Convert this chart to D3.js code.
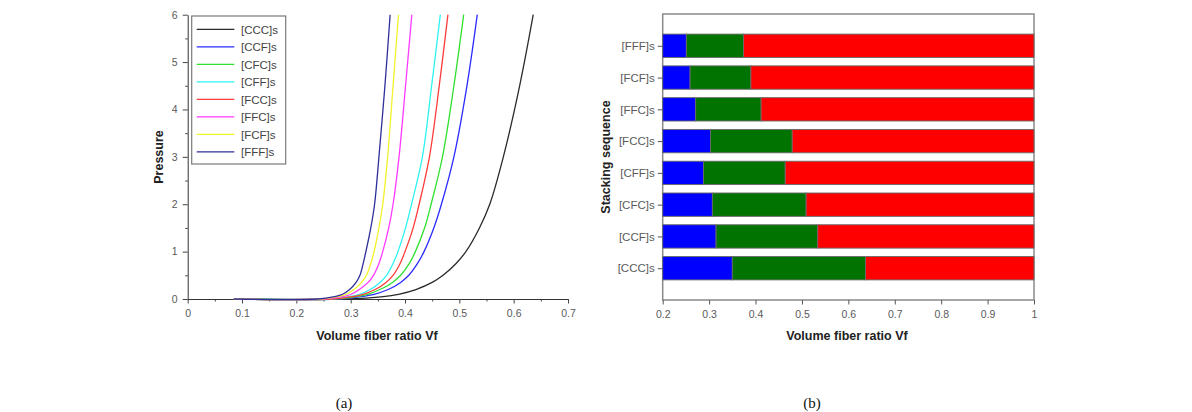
<!DOCTYPE html>
<html>
<head>
<meta charset="utf-8">
<script src="https://cdn.jsdelivr.net/npm/d3@7"></script>
<style>
  html, body { margin: 0; padding: 0; background: #ffffff; }
  svg { display: block; }
  text { font-family: "Liberation Sans", Arial, sans-serif; }
</style>
</head>
<body>
<svg id="chart" width="1192" height="412"></svg>
<script>
// ---------- DATA ----------
const categories = ["[CCC]s", "[CCF]s", "[CFC]s", "[CFF]s", "[FCC]s", "[FFC]s", "[FCF]s", "[FFF]s"];
const lineColors = ["#2a2a2a", "#2b2bff", "#2fe02f", "#2ff2f2", "#ff3a3a", "#ff3aff", "#f2f22a", "#2e2e9c"];

// (a) pressure curves: pressure levels and the Vf read at each level, per sequence
const pressureLevels = [0, 0, 0.05, 0.1, 0.2, 0.35, 0.5, 0.75, 1, 1.5, 2, 3, 4.5, 6];
const vfCCC = [0.085, 0.290, 0.360, 0.388, 0.420, 0.450, 0.470, 0.494, 0.512, 0.537, 0.556, 0.581, 0.611, 0.636];
const vfCCF = [0.085, 0.275, 0.318, 0.343, 0.369, 0.392, 0.407, 0.423, 0.435, 0.453, 0.467, 0.490, 0.514, 0.533];
const vfCFC = [0.085, 0.270, 0.309, 0.331, 0.354, 0.377, 0.392, 0.408, 0.419, 0.436, 0.448, 0.469, 0.490, 0.508];
const vfCFF = [0.085, 0.260, 0.297, 0.316, 0.336, 0.354, 0.366, 0.378, 0.387, 0.401, 0.412, 0.432, 0.449, 0.465];
const vfFCC = [0.085, 0.265, 0.303, 0.323, 0.345, 0.365, 0.378, 0.391, 0.400, 0.415, 0.426, 0.445, 0.463, 0.479];
const vfFFC = [0.085, 0.250, 0.285, 0.301, 0.316, 0.332, 0.342, 0.352, 0.359, 0.370, 0.378, 0.389, 0.401, 0.4125];
const vfFCF = [0.085, 0.245, 0.276, 0.292, 0.306, 0.320, 0.329, 0.337, 0.343, 0.352, 0.359, 0.368, 0.378, 0.388];
const vfFFF = [0.085, 0.240, 0.270, 0.285, 0.298, 0.310, 0.317, 0.323, 0.328, 0.337, 0.344, 0.352, 0.363, 0.3726];
const curveSeries = [vfCCC, vfCCF, vfCFC, vfCFF, vfFCC, vfFFC, vfFCF, vfFFF];

const xTicksA = [0, 0.1, 0.2, 0.3, 0.4, 0.5, 0.6, 0.7];
const xMinorA = [0.05, 0.15, 0.25, 0.35, 0.45, 0.55, 0.65];
const yTicksA = [0, 1, 2, 3, 4, 5, 6];
const yMinorA = [0.5, 1.5, 2.5, 3.5, 4.5, 5.5];

// (b) stacked bars: segment boundaries (blue: 0.2 -> blueEnd, green: -> greenEnd, red: -> redEnd)
const barStart = [0.2, 0.2, 0.2, 0.2, 0.2, 0.2, 0.2, 0.2];
const blueEnd  = [0.350, 0.315, 0.307, 0.288, 0.303, 0.271, 0.259, 0.251];
const greenEnd = [0.637, 0.534, 0.509, 0.464, 0.479, 0.412, 0.390, 0.374];
const redEnd   = [1, 1, 1, 1, 1, 1, 1, 1];
const segColors = ["#0000ff", "#007300", "#ff0000"];
const xTicksB = [0.2, 0.3, 0.4, 0.5, 0.6, 0.7, 0.8, 0.9, 1];

// ---------- DRAW ----------
const svg = d3.select("#chart");
const tickColor = "#5a5a5a";
const fmt = d3.format("~g");

// ===== Panel (a) =====
const xA = d3.scaleLinear().domain([0, 0.7]).range([187.7, 568]);
const yA = d3.scaleLinear().domain([0, 6]).range([299, 14.7]);
const gA = svg.append("g");

// minor ticks
gA.append("g").attr("transform", `translate(0,${yA(0)})`)
  .call(d3.axisBottom(xA).tickValues(xMinorA).tickSize(2.5).tickFormat(""))
  .call(g => g.select(".domain").remove())
  .call(g => g.selectAll("line").attr("stroke", "#444"));
gA.append("g").attr("transform", `translate(${xA(0)},0)`)
  .call(d3.axisLeft(yA).tickValues(yMinorA).tickSize(2.5).tickFormat(""))
  .call(g => g.select(".domain").remove())
  .call(g => g.selectAll("line").attr("stroke", "#444"));

const axXA = gA.append("g").attr("transform", `translate(0,${yA(0)})`)
  .call(d3.axisBottom(xA).tickValues(xTicksA).tickSize(4.5).tickPadding(6).tickSizeOuter(0).tickFormat(fmt));
const axYA = gA.append("g").attr("transform", `translate(${xA(0)},0)`)
  .call(d3.axisLeft(yA).tickValues(yTicksA).tickSize(5).tickPadding(5).tickSizeOuter(0).tickFormat(fmt));
[axXA, axYA].forEach(ax => {
  ax.select(".domain").attr("stroke", "#333");
  ax.selectAll("line").attr("stroke", "#444");
  ax.selectAll("text").attr("fill", tickColor).style("font-size", "10.5px")
    .style("font-family", "'Liberation Sans', Arial, sans-serif");
});

// curves
const lineGen = d3.line()
  .x(d => xA(d[0])).y(d => yA(d[1]))
  .curve(d3.curveCatmullRom.alpha(0.5));
curveSeries.forEach((vals, i) => {
  const pts = vals.map((v, j) => [v, pressureLevels[j]]);
  gA.append("path").datum(pts)
    .attr("d", lineGen)
    .attr("fill", "none")
    .attr("stroke", lineColors[i])
    .attr("stroke-width", 1.3);
});

// legend
const leg = gA.append("g");
leg.append("rect").attr("x", 191.7).attr("y", 16).attr("width", 94).attr("height", 148)
  .attr("fill", "#ffffff").attr("stroke", "#7a7a7a").attr("stroke-width", 1.2);
categories.forEach((c, i) => {
  const y = 29.4 + i * 17.5;
  leg.append("line").attr("x1", 196.7).attr("x2", 234.3).attr("y1", y).attr("y2", y)
    .attr("stroke", lineColors[i]).attr("stroke-width", 1.3);
  leg.append("text").attr("x", 241).attr("y", y).attr("dy", "0.36em")
    .attr("fill", "#444").style("font-size", "11.5px").text(c);
});

// axis titles
gA.append("text").attr("x", 377).attr("y", 335).attr("dy", "0.36em")
  .attr("text-anchor", "middle").attr("fill", "#222")
  .style("font-size", "12.5px").style("font-weight", "bold").text("Volume fiber ratio Vf");
gA.append("text").attr("transform", "translate(158.5,157) rotate(-90)")
  .attr("dy", "0.36em").attr("text-anchor", "middle").attr("fill", "#222")
  .style("font-size", "12.5px").style("font-weight", "bold").text("Pressure");

// ===== Panel (b) =====
const plotTop = 14, plotBottom = 300;
const step = (plotBottom - plotTop) / 9;
const xB = d3.scaleLinear().domain([0.2, 1]).range([662.7, 1034]);
const yB = d3.scalePoint().domain(categories.slice().reverse())
  .range([plotTop + step, plotBottom - step]);
const barH = step * 0.735;
const gB = svg.append("g");

gB.append("rect").attr("x", xB(0.2)).attr("y", plotTop)
  .attr("width", xB(1) - xB(0.2)).attr("height", plotBottom - plotTop)
  .attr("fill", "#ffffff").attr("stroke", "#8a8a8a").attr("stroke-width", 1.5);

categories.forEach((c, i) => {
  const bounds = [barStart[i], blueEnd[i], greenEnd[i], redEnd[i]];
  for (let s = 0; s < 3; s++) {
    gB.append("rect")
      .attr("x", xB(bounds[s]))
      .attr("y", yB(c) - barH / 2)
      .attr("width", xB(bounds[s + 1]) - xB(bounds[s]))
      .attr("height", barH)
      .attr("fill", segColors[s])
      .attr("stroke", "#6a6a6a").attr("stroke-width", 0.9);
  }
});

const axXB = gB.append("g").attr("transform", `translate(0,${plotBottom})`)
  .call(d3.axisBottom(xB).tickValues(xTicksB).tickSize(4.5).tickPadding(6).tickSizeOuter(0).tickFormat(fmt));
const axYB = gB.append("g").attr("transform", `translate(${xB(0.2)},0)`)
  .call(d3.axisLeft(yB).tickSize(5).tickPadding(3).tickSizeOuter(0));
[axXB, axYB].forEach(ax => {
  ax.select(".domain").remove();
  ax.selectAll("line").attr("stroke", "#555");
  ax.selectAll("text").attr("fill", tickColor)
    .style("font-family", "'Liberation Sans', Arial, sans-serif");
});
axXB.selectAll("text").style("font-size", "10.5px");
axYB.selectAll("text").style("font-size", "11.5px");

gB.append("text").attr("x", 847).attr("y", 335).attr("dy", "0.36em")
  .attr("text-anchor", "middle").attr("fill", "#222")
  .style("font-size", "12.5px").style("font-weight", "bold").text("Volume fiber ratio Vf");
gB.append("text").attr("transform", "translate(605,157) rotate(-90)")
  .attr("dy", "0.36em").attr("text-anchor", "middle").attr("fill", "#222")
  .style("font-size", "12.5px").style("font-weight", "bold").text("Stacking sequence");

// captions
svg.append("text").attr("x", 344).attr("y", 403).attr("dy", "0.36em")
  .attr("text-anchor", "middle").attr("fill", "#111")
  .style("font-family", "'Liberation Serif', 'Times New Roman', serif")
  .style("font-size", "15px").text("(a)");
svg.append("text").attr("x", 812).attr("y", 403).attr("dy", "0.36em")
  .attr("text-anchor", "middle").attr("fill", "#111")
  .style("font-family", "'Liberation Serif', 'Times New Roman', serif")
  .style("font-size", "15px").text("(b)");
</script>
</body>
</html>
